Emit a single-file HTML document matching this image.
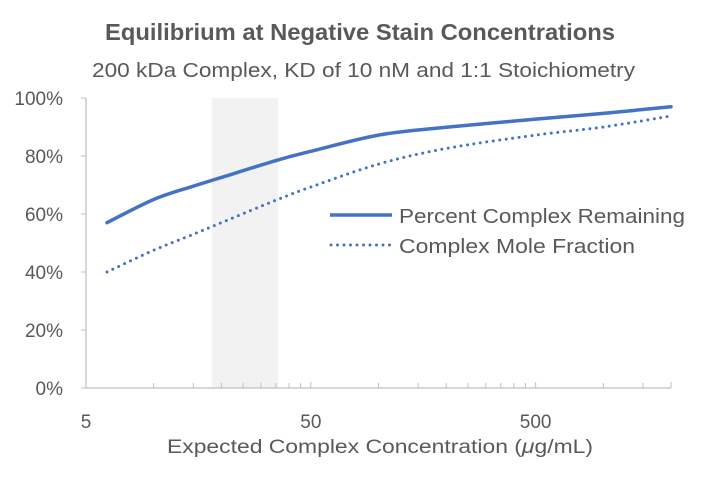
<!DOCTYPE html>
<html><head><meta charset="utf-8"><style>
body{margin:0;background:#fff;}
svg text{font-family:"Liberation Sans",sans-serif;fill:#595959;}
</style></head><body>
<svg id="chart" width="712" height="483" xmlns="http://www.w3.org/2000/svg">
<text x="105" y="40" font-size="23" font-weight="bold" textLength="510" lengthAdjust="spacingAndGlyphs">Equilibrium at Negative Stain Concentrations</text>
<text x="92" y="77" font-size="20" textLength="543" lengthAdjust="spacingAndGlyphs">200 kDa Complex, KD of 10 nM and 1:1 Stoichiometry</text>
<text x="167" y="453" font-size="19" textLength="426" lengthAdjust="spacingAndGlyphs">Expected Complex Concentration (<tspan font-style="italic">μ</tspan>g/mL)</text>
<g id="plot"></g>
<g>
<line x1="330" y1="215" x2="392" y2="215" stroke="#4472C4" stroke-width="3.5"/>
<text x="399" y="223" font-size="20" textLength="286" lengthAdjust="spacingAndGlyphs">Percent Complex Remaining</text>
<line x1="331" y1="245" x2="392" y2="245" stroke="#4472C4" stroke-width="3" stroke-dasharray="0 6.5" stroke-linecap="round"/>
<text x="399" y="253" font-size="20" textLength="236" lengthAdjust="spacingAndGlyphs">Complex Mole Fraction</text>
</g>
</svg>
<script>
const xVals = [6.2, 10, 15, 20, 35.6, 50, 100, 200, 500, 1000, 2000];
const percentRemaining = [57, 65, 69.6, 72.6, 78.6, 81.6, 87.2, 89.9, 92.7, 94.7, 97];
const moleFraction = [40, 47.5, 53, 57, 65, 69.3, 77.2, 82.6, 87.2, 90, 93.8];
const yTicks = [0, 20, 40, 60, 80, 100];
const xTickLabels = [5, 50, 500];
const minorTicks = [10,15,20,25,30,35,40,45,100,150,200,250,300,350,400,450,1000,1500];
const band = [18.2, 35.7];
const X0 = 86, X1 = 671, Y0 = 388, Y1 = 98, xmin = 5, xmax = 2000;
function sx(v){return X0 + (Math.log10(v)-Math.log10(xmin))/(Math.log10(xmax)-Math.log10(xmin))*(X1-X0);}
function sy(v){return Y0 - v/100*(Y0-Y1);}
const g = document.getElementById('plot');
const NS = 'http://www.w3.org/2000/svg';
function mk(t,a){const e=document.createElementNS(NS,t);for(const k in a)e.setAttribute(k,a[k]);g.appendChild(e);return e;}
const b = mk('rect',{x:sx(band[0]),y:Y1,width:sx(band[1])-sx(band[0]),height:Y0-Y1,fill:'#F2F2F2'});


const ya = mk('line',{x1:X0,y1:Y1,x2:X0,y2:Y0,stroke:'#BFBFBF','stroke-width':1.2});


const xa = mk('line',{x1:X0,y1:Y0,x2:X1,y2:Y0,stroke:'#BFBFBF','stroke-width':1.2});


yTicks.forEach(v=>{
  const t = mk('line',{x1:X0-5,y1:sy(v),x2:X0,y2:sy(v),stroke:'#BFBFBF'});
  
  
  const l = mk('text',{x:63,y:sy(v)+7,'text-anchor':'end','font-size':19});
  l.textContent = v+'%';
  
  
});
xTickLabels.concat([2000]).forEach(v=>{
  const t = mk('line',{x1:sx(v),y1:Y0,x2:sx(v),y2:Y0-6,stroke:'#BFBFBF'});
  
  
});
xTickLabels.forEach(v=>{
  const l = mk('text',{x:sx(v),y:428,'text-anchor':'middle','font-size':19});
  l.textContent = v;
  
  
});
minorTicks.forEach(v=>{
  const t = mk('line',{x1:sx(v),y1:Y0,x2:sx(v),y2:Y0-5,stroke:'#BFBFBF'});
  
  
});
function path(vals){
  const p = xVals.map((x,i)=>[sx(x),sy(vals[i])]);
  let d = 'M'+p[0][0]+','+p[0][1];
  for(let i=0;i<p.length-1;i++){
    const p0=p[Math.max(0,i-1)],p1=p[i],p2=p[i+1],p3=p[Math.min(p.length-1,i+2)];
    const c1=[p1[0]+(p2[0]-p0[0])/6,p1[1]+(p2[1]-p0[1])/6];
    const c2=[p2[0]-(p3[0]-p1[0])/6,p2[1]-(p3[1]-p1[1])/6];
    d+=' C'+c1+' '+c2+' '+p2;
  }
  return d;
}
const s1 = mk('path',{d:path(percentRemaining),fill:'none',stroke:'#4472C4','stroke-width':3.5,'stroke-linecap':'round'});


const s2 = mk('path',{d:path(moleFraction),fill:'none',stroke:'#4472C4','stroke-width':3,'stroke-dasharray':'0 6.5','stroke-linecap':'round'});


</script>
</body></html>
